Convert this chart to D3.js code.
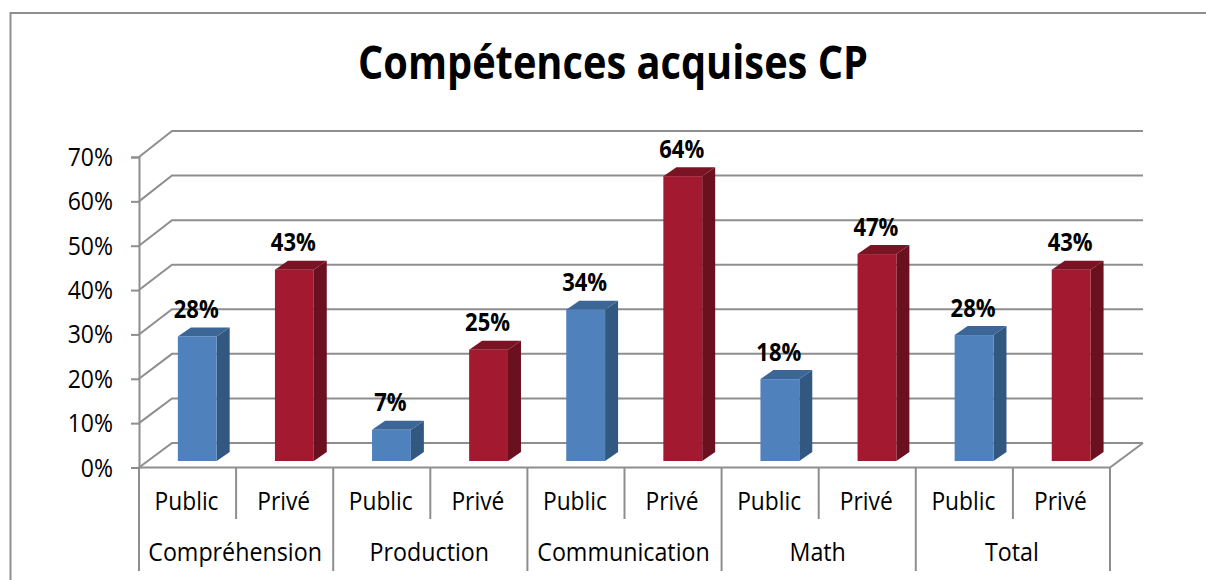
<!DOCTYPE html>
<html>
<head>
<meta charset="utf-8">
<script src="https://cdn.jsdelivr.net/npm/d3@7"></script>
<style>
  html, body { margin: 0; padding: 0; background: #fff; overflow: hidden; }
  text { font-family: "Open Sans", sans-serif; fill: #000; }
</style>
</head>
<body>
<script>
const groups = ['Compréhension', 'Production', 'Communication', 'Math', 'Total']
const sectors = ['Public', 'Privé']
const publicValues = [28, 7, 34, 18.4, 28.3]
const privateValues = [43, 25, 64, 46.5, 43]
const yTicks = [0, 10, 20, 30, 40, 50, 60, 70]
const titleText = 'Compétences acquises CP'

const width = 1206
const height = 580
const grey = '#8e8e8e'
const colors = {
  Public: { front: '#4f81bd', top: '#3c6696', side: '#325780' },
  'Privé': { front: '#a31a30', top: '#7a1324', side: '#6b101f' }
}

// the original face is narrower than Open Sans, so squeeze each text a bit
const squeeze = (sel, k) => sel.each(function () {
  d3.select(this)
    .attr('textLength', this.getComputedTextLength() * k)
    .attr('lengthAdjust', 'spacingAndGlyphs')
})

const svg = d3.select('body').append('svg')
  .attr('width', width)
  .attr('height', height)

// chart frame, only left and top show in the crop
svg.append('path')
  .attr('d', 'M10.5,580V13H1206')
  .attr('fill', 'none')
  .attr('stroke', grey)
  .attr('stroke-width', 2)

svg.append('text')
  .attr('x', 613)
  .attr('y', 79)
  .attr('text-anchor', 'middle')
  .attr('font-size', 46)
  .attr('font-weight', 700)
  .attr('textLength', 510)
  .attr('lengthAdjust', 'spacingAndGlyphs')
  .text(titleText)

const rows = groups.flatMap((g, i) => [
  { group: g, sector: sectors[0], value: publicValues[i] },
  { group: g, sector: sectors[1], value: privateValues[i] }
])
rows.forEach((d, i) => { d.key = i })

const x = d3.scaleBand().domain(rows.map(d => d.key)).range([139, 1110])
const xGroup = d3.scaleBand().domain(groups).range([139, 1110])
const yFront = d3.scaleLinear().domain([0, 70]).range([467.5, 157])
const yBack = d3.scaleLinear().domain([0, 70]).range([443, 131])
const yBar = d3.scaleLinear().domain([0, 70]).range([461, 149.5])

const depthX = 33
const barDepthX = 13
const barDepthY = 9
const barWidth = x.bandwidth() * 0.4

// back wall + side wall grid
const grid = svg.append('g')
  .attr('fill', 'none')
  .attr('stroke', grey)
  .attr('stroke-width', 2)

grid.selectAll('path')
  .data(yTicks)
  .enter()
  .append('path')
  .attr('d', d => `M139,${yFront(d)}L${139 + depthX},${yBack(d)}H${1110 + depthX}`)

grid.append('path')
  .attr('d', `M139,${yFront(0)}H1110L${1110 + depthX},${yBack(0)}`)

// y axis
const yAxis = d3.axisLeft(yFront)
  .tickValues(yTicks)
  .tickFormat(d => d + '%')
  .tickSize(8)
  .tickPadding(18)

const yG = svg.append('g')
  .attr('transform', 'translate(139,0)')
  .call(yAxis)
yG.selectAll('.domain,line').attr('stroke', grey).attr('stroke-width', 2)
yG.selectAll('text')
  .attr('font-size', 25)
  .attr('font-family', '"Open Sans", sans-serif')
  .attr('dy', '0.34em')
  .call(squeeze, 0.92)

// category separators
const sep = svg.append('g').attr('stroke', grey).attr('stroke-width', 2)
sep.selectAll('.inner')
  .data(rows.filter(d => d.sector === sectors[0]))
  .enter()
  .append('line')
  .attr('x1', d => x(d.key) + x.bandwidth())
  .attr('x2', d => x(d.key) + x.bandwidth())
  .attr('y1', yFront(0))
  .attr('y2', 519)
sep.selectAll('.outer')
  .data(groups.concat('end'))
  .enter()
  .append('line')
  .attr('x1', d => d === 'end' ? 1110 : xGroup(d))
  .attr('x2', d => d === 'end' ? 1110 : xGroup(d))
  .attr('y1', yFront(0))
  .attr('y2', 571)

// bars
const bars = svg.append('g')
  .selectAll('g')
  .data(rows)
  .enter()
  .append('g')

const barLeft = d => x(d.key) + x.bandwidth() * 0.4

bars.append('path')
  .attr('fill', d => colors[d.sector].side)
  .attr('d', d => {
    const r = barLeft(d) + barWidth
    return `M${r},${yBar(0)}V${yBar(d.value)}l${barDepthX},${-barDepthY}V${yBar(0) - barDepthY}Z`
  })
bars.append('path')
  .attr('fill', d => colors[d.sector].top)
  .attr('d', d => {
    const l = barLeft(d)
    return `M${l},${yBar(d.value)}h${barWidth}l${barDepthX},${-barDepthY}h${-barWidth}Z`
  })
bars.append('rect')
  .attr('fill', d => colors[d.sector].front)
  .attr('x', barLeft)
  .attr('y', d => yBar(d.value))
  .attr('width', barWidth)
  .attr('height', d => yBar(0) - yBar(d.value))

bars.append('text')
  .attr('x', d => barLeft(d) + barWidth / 2 - 1)
  .attr('y', d => yBar(d.value) - 18.5)
  .attr('text-anchor', 'middle')
  .attr('font-size', 25)
  .attr('font-weight', 700)
  .text(d => Math.round(d.value) + '%')
  .call(squeeze, 0.88)

// category labels
svg.append('g')
  .selectAll('text')
  .data(rows)
  .enter()
  .append('text')
  .attr('x', d => x(d.key) + x.bandwidth() / 2 - 1)
  .attr('y', 510)
  .attr('text-anchor', 'middle')
  .attr('font-size', 25)
  .text(d => d.sector)
  .call(squeeze, 0.91)

svg.append('g')
  .selectAll('text')
  .data(groups)
  .enter()
  .append('text')
  .attr('x', d => xGroup(d) + xGroup.bandwidth() / 2 - 1)
  .attr('y', 561)
  .attr('text-anchor', 'middle')
  .attr('font-size', 25)
  .text(d => d)
  .call(squeeze, 0.93)
</script>
</body>
</html>
